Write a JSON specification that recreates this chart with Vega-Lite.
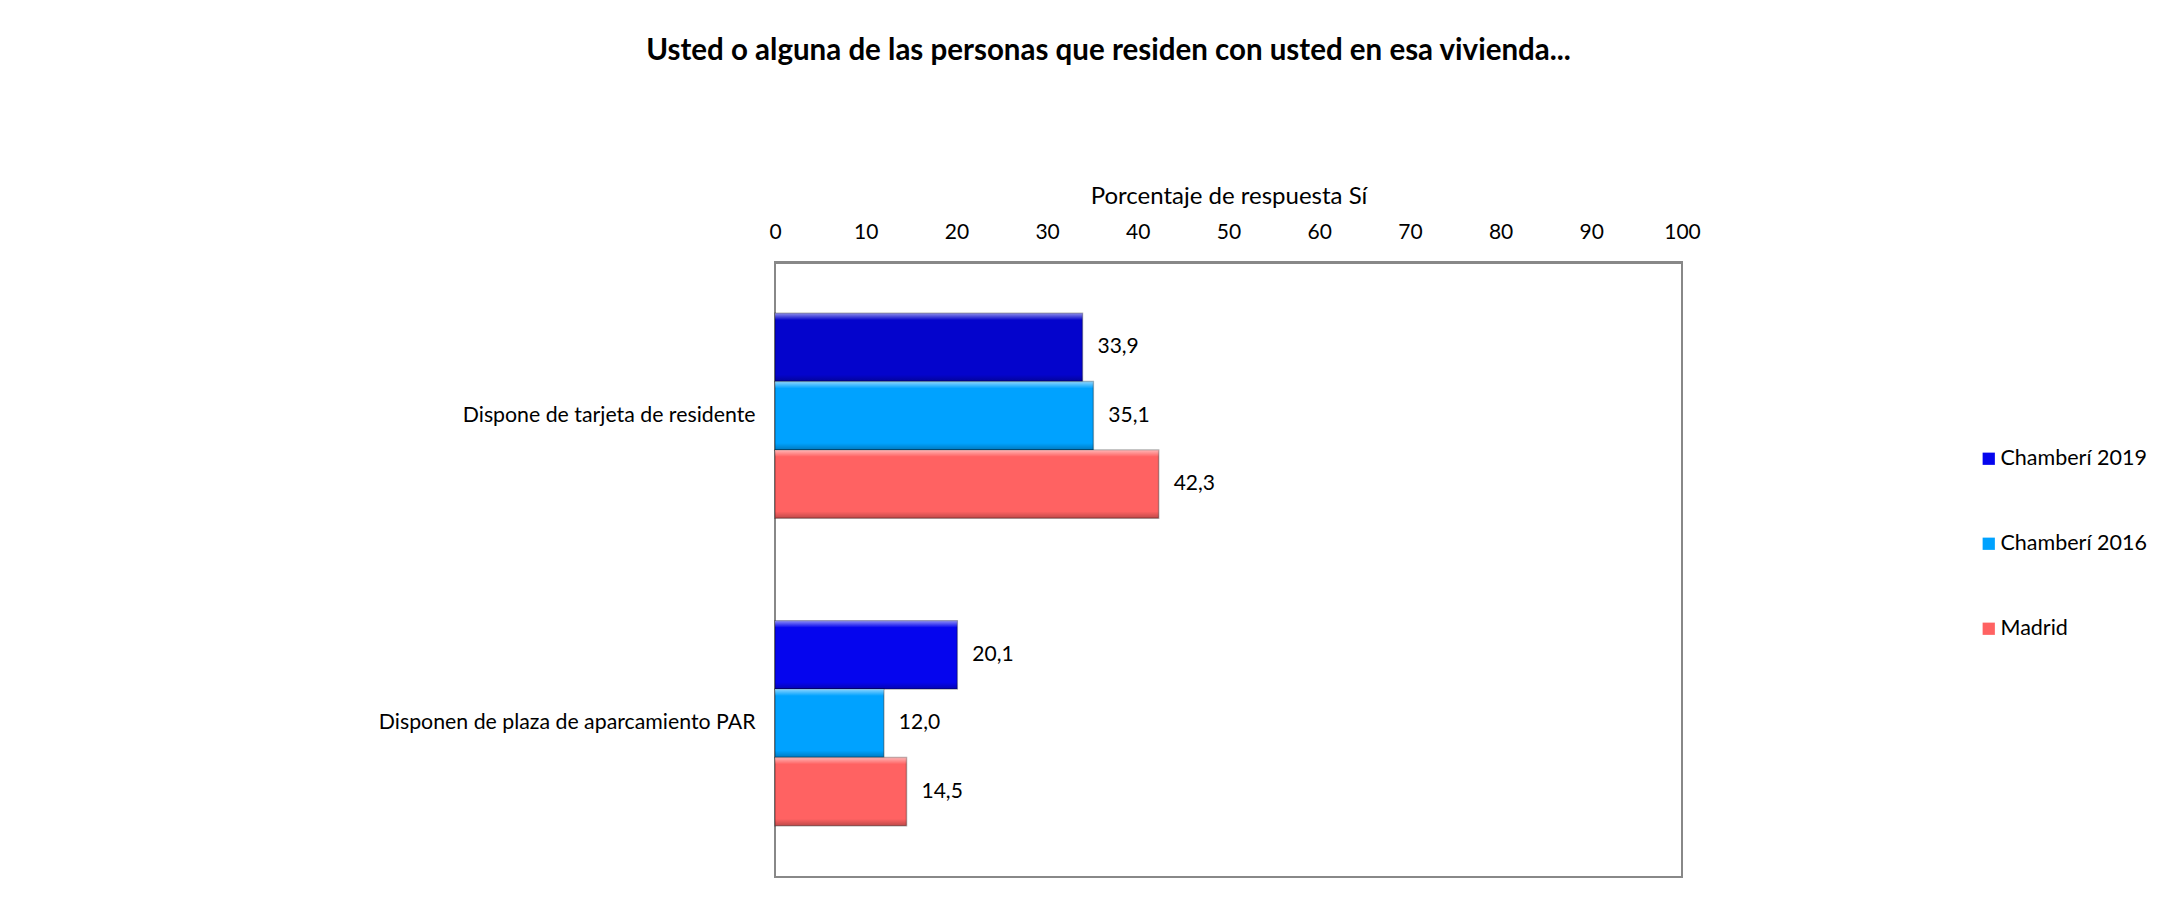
{
  "$schema": "https://vega.github.io/schema/vega-lite/v6.json",
  "autosize": {"type": "none"},
  "width": 907,
  "height": 615,
  "padding": {"left": 775, "top": 262, "right": 501, "bottom": 34},
  "background": "white",
  "title": {
    "text": "Usted o alguna de las personas que residen con usted en esa vivienda...",
    "font": "Lato",
    "fontSize": 29.5,
    "fontWeight": "bold",
    "color": "#000000",
    "anchor": "middle",
    "frame": "group",
    "dx": -120,
    "offset": 118
  },
  "data": {
    "values": [
      {"categoria": "Dispone de tarjeta de residente", "serie": "Chamberí 2019", "valor": 33.9},
      {"categoria": "Dispone de tarjeta de residente", "serie": "Chamberí 2016", "valor": 35.1},
      {"categoria": "Dispone de tarjeta de residente", "serie": " Madrid", "valor": 42.3},
      {"categoria": "Disponen de plaza de aparcamiento PAR", "serie": "Chamberí 2019", "valor": 20.1},
      {"categoria": "Disponen de plaza de aparcamiento PAR", "serie": "Chamberí 2016", "valor": 12.0},
      {"categoria": "Disponen de plaza de aparcamiento PAR", "serie": " Madrid", "valor": 14.5}
    ]
  },
  "encoding": {
    "y": {
      "field": "categoria",
      "type": "nominal",
      "sort": ["Dispone de tarjeta de residente", "Disponen de plaza de aparcamiento PAR"],
      "scale": {"paddingInner": 0.3333, "paddingOuter": 0.1667},
      "axis": {
        "title": null,
        "domain": false,
        "ticks": false,
        "tickSize": 0,
        "labelPadding": 20,
        "labelFont": "Lato",
        "labelFontSize": 21.3,
        "labelColor": "#000000",
        "labelLimit": 600
      }
    },
    "yOffset": {
      "field": "serie",
      "type": "nominal",
      "sort": ["Chamberí 2019", "Chamberí 2016", " Madrid"],
      "scale": {"paddingInner": 0, "paddingOuter": 0}
    },
    "x": {
      "field": "valor",
      "type": "quantitative",
      "scale": {"domain": [0, 100], "nice": false},
      "axis": {
        "orient": "top",
        "values": [0, 10, 20, 30, 40, 50, 60, 70, 80, 90, 100],
        "grid": false,
        "ticks": false,
        "tickSize": 0,
        "labelPadding": 20,
        "labelFont": "Lato",
        "labelFontSize": 21,
        "labelColor": "#000000",
        "labelFlush": false,
        "domain": true,
        "domainColor": "#888888",
        "domainWidth": 3,
        "title": "Porcentaje de respuesta Sí",
        "titleFont": "Lato",
        "titleFontSize": 24,
        "titleFontWeight": "normal",
        "titleColor": "#000000",
        "titlePadding": 13
      }
    }
  },
  "layer": [
    {
      "mark": {"type": "bar", "stroke": "#000000", "strokeOpacity": 0.3, "strokeWidth": 1.5},
      "encoding": {
        "color": {
          "field": "serie",
          "type": "nominal",
          "sort": ["Chamberí 2019", "Chamberí 2016", " Madrid"],
          "scale": {
            "domain": ["Chamberí 2019", "Chamberí 2016", " Madrid"],
            "range": ["#0505ee", "#00a2ff", "#ff6262"]
          },
          "legend": {
            "title": null,
            "orient": "none",
            "legendX": 1203,
            "legendY": 186,
            "symbolType": "square",
            "symbolSize": 150,
            "symbolStrokeWidth": 0,
            "labelFont": "Lato",
            "labelFontSize": 21.5,
            "labelColor": "#000000",
            "labelOffset": 1,
            "rowPadding": 62
          }
        }
      }
    },
    {
      "transform": [
        {"filter": "datum.serie === 'Chamberí 2019' && datum.categoria === 'Dispone de tarjeta de residente'"}
      ],
      "mark": {"type": "bar", "fill": "#000000", "fillOpacity": 0.14, "strokeWidth": 0},
      "encoding": {}
    },
    {
      "mark": {
        "type": "bar",
        "fill": {
          "gradient": "linear",
          "x1": 0, "y1": 0, "x2": 0, "y2": 1,
          "stops": [
            {"offset": 0, "color": "rgba(255,255,255,0.55)"},
            {"offset": 0.1, "color": "rgba(255,255,255,0)"},
            {"offset": 0.9, "color": "rgba(0,0,0,0)"},
            {"offset": 1, "color": "rgba(0,0,0,0.25)"}
          ]
        },
        "strokeWidth": 0
      },
      "encoding": {}
    },
    {
      "mark": {
        "type": "text",
        "align": "left",
        "baseline": "middle",
        "dx": 15,
        "font": "Lato",
        "fontSize": 21,
        "color": "#000000"
      },
      "encoding": {
        "text": {"field": "valor", "type": "quantitative", "format": ".1f"}
      }
    }
  ],
  "config": {
    "locale": {
      "number": {"decimal": ",", "thousands": ".", "grouping": [3], "currency": ["", " €"]}
    },
    "view": {"stroke": "#888888", "strokeWidth": 2}
  }
}
